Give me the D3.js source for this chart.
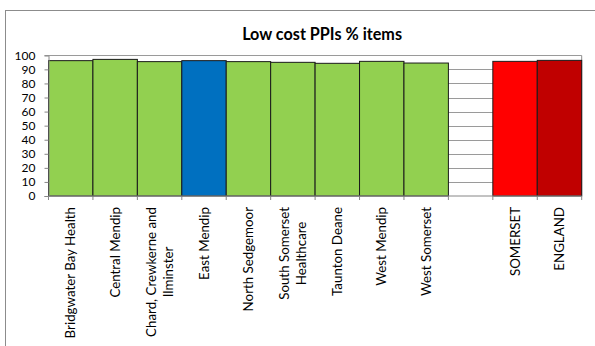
<!DOCTYPE html>
<html>
<head>
<meta charset="utf-8">
<script src="https://cdn.jsdelivr.net/npm/d3@7"></script>
<style>
  html, body { margin: 0; padding: 0; background: #fff; }
  svg { display: block; }
  text { font-family: Lato, "Open Sans", "DejaVu Sans", sans-serif; fill: #000; }
</style>
</head>
<body>
<svg id="chart" width="595" height="346"></svg>
<script>
// ---- data ----
const title = "Low cost PPIs % items";
const categories = [
  "Bridgwater Bay Health",
  "Central Mendip",
  "Chard, Crewkerne and\nIlminster",
  "East Mendip",
  "North Sedgemoor",
  "South Somerset\nHealthcare",
  "Taunton Deane",
  "West Mendip",
  "West Somerset",
  "",
  "SOMERSET",
  "ENGLAND"
];
const values = [96.2, 97.1, 95.5, 96.2, 95.5, 95.0, 94.3, 95.7, 94.5, null, 95.7, 96.4];
const yTicks = [0, 10, 20, 30, 40, 50, 60, 70, 80, 90, 100];

// ---- styles ----
const defaultColor = "#92D050";
const specialColors = { "East Mendip": "#0070C0", "SOMERSET": "#FF0000", "ENGLAND": "#C00000" };

const svg = d3.select("#chart");
const plot = { left: 48.5, right: 581.7, top: 55.3, bottom: 196 };

// outer frame
svg.append("rect")
  .attr("x", 5.5).attr("y", 10.5)
  .attr("width", 620).attr("height", 360)
  .attr("fill", "#fff").attr("stroke", "#8c8c8c").attr("stroke-width", 1);

const x = d3.scaleBand().domain(d3.range(categories.length))
  .range([plot.left, plot.right]).paddingInner(0).paddingOuter(0);
const y = d3.scaleLinear().domain([0, 100]).range([plot.bottom, plot.top]);

// title
const t = svg.append("text")
  .attr("x", (plot.left + plot.right) / 2 + 7).attr("y", 40)
  .attr("text-anchor", "middle")
  .style("font-weight", "bold").style("font-size", "15px")
  .text(title);
{
  const w = t.node().getComputedTextLength();
  t.style("font-size", (15 * 160 / w).toFixed(2) + "px");
}

// gridlines
svg.append("g")
  .selectAll("line").data(yTicks.filter(d => d > 0))
  .join("line")
  .attr("x1", plot.left).attr("x2", plot.right)
  .attr("y1", d => Math.round(y(d)) + 0.5).attr("y2", d => Math.round(y(d)) + 0.5)
  .attr("stroke", "#9a9a9a").attr("stroke-width", 1);

// right border of plot area
svg.append("line")
  .attr("x1", plot.right).attr("x2", plot.right)
  .attr("y1", Math.round(y(100)) + 0.5).attr("y2", plot.bottom)
  .attr("stroke", "#8c8c8c");

// bars
svg.append("g")
  .selectAll("rect").data(values.map((v, i) => ({ v, i })).filter(d => d.v != null))
  .join("rect")
  .attr("x", d => x(d.i))
  .attr("width", x.bandwidth())
  .attr("y", d => y(d.v))
  .attr("height", d => plot.bottom - y(d.v))
  .attr("fill", d => specialColors[categories[d.i]] || defaultColor)
  .attr("stroke", "#1a1a1a").attr("stroke-width", 1);

// y axis
const yAxis = d3.axisLeft(y).tickValues(yTicks).tickSize(4).tickPadding(9).tickFormat(d3.format("d"));
const gy = svg.append("g").attr("transform", `translate(${plot.left},0)`).call(yAxis);
gy.select(".domain").attr("stroke", "#868686");
gy.selectAll(".tick line").attr("stroke", "#868686");
gy.selectAll(".tick text").style("font-size", "12px").style("font-family", "Lato, 'Open Sans', sans-serif").attr("fill", "#000");

// x axis (ticks at band boundaries)
svg.append("line")
  .attr("x1", plot.left).attr("x2", plot.right)
  .attr("y1", plot.bottom).attr("y2", plot.bottom)
  .attr("stroke", "#868686");
const boundaries = d3.range(categories.length + 1).map(i => i < categories.length ? x(i) : plot.right);
svg.append("g").selectAll("line").data(boundaries)
  .join("line")
  .attr("x1", d => d).attr("x2", d => d)
  .attr("y1", plot.bottom).attr("y2", plot.bottom + 4)
  .attr("stroke", "#868686");

// x labels: rotated, block top-aligned, lines centred within block
const lg = svg.append("g");
// calibrate label font so the longest line matches the reference width (~130px)
let labelFont = 13;
{
  const probe = lg.append("text").style("font-size", "13px").text("Chard, Crewkerne and");
  labelFont = 13 * 130 / probe.node().getComputedTextLength();
  probe.remove();
}
const lineH = 17;
categories.forEach((c, i) => {
  if (!c) return;
  const lines = c.split("\n");
  const cx = x(i) + x.bandwidth() / 2;
  const g = lg.append("g");
  const texts = lines.map(ln => g.append("text")
    .style("font-size", labelFont.toFixed(2) + "px")
    .attr("text-anchor", "middle")
    .text(ln));
  const widths = texts.map(tn => tn.node().getComputedTextLength());
  const maxW = d3.max(widths);
  const top = 207;
  const cyBlock = top + maxW / 2;
  texts.forEach((tn, k) => {
    const off = (k - (lines.length - 1) / 2) * lineH;
    const lx = cx + off + 4.5;
    tn.attr("transform", `translate(${lx},${cyBlock}) rotate(-90)`);
  });
});
</script>
</body>
</html>
